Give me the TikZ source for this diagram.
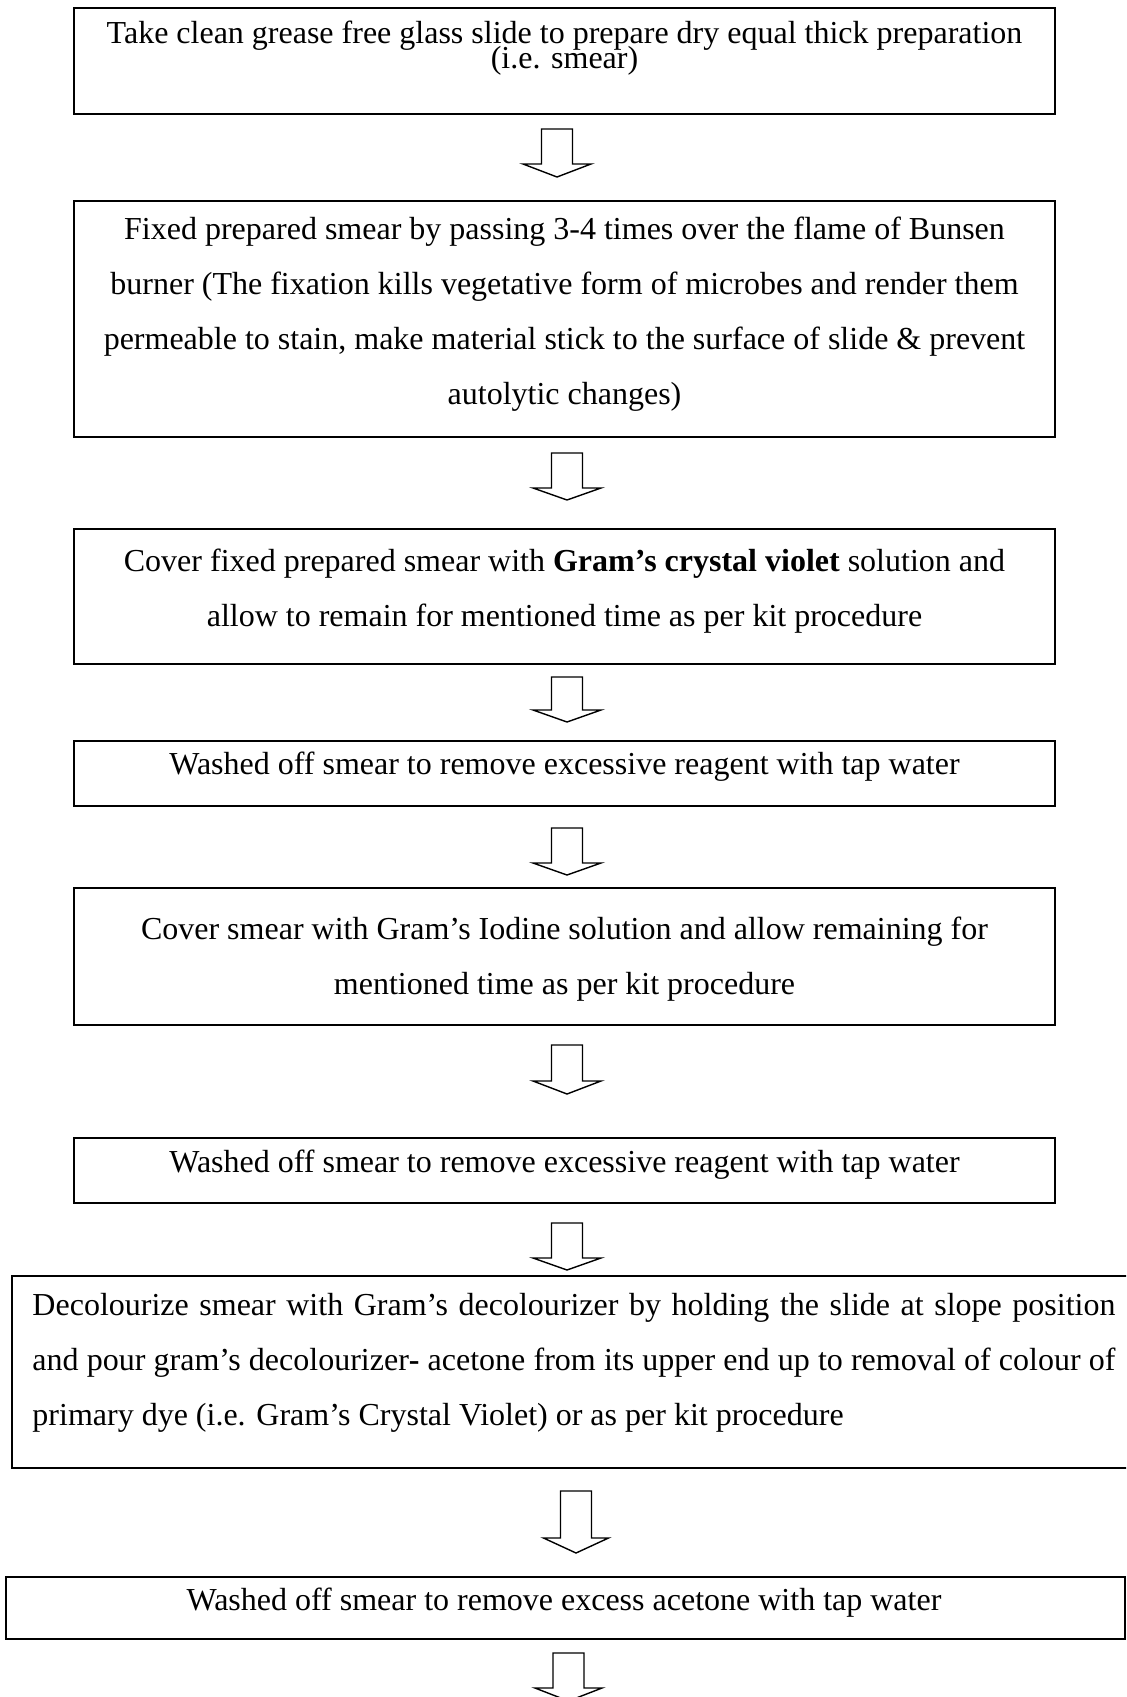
\documentclass[tikz,border=0pt]{standalone}
\usepackage{fontspec}
\setmainfont{Liberation Serif}
\begin{document}
\begin{tikzpicture}[x=0.5pt,y=-0.5pt,
  box/.style={draw=black,line width=1pt,rectangle,inner sep=0pt,minimum width=490.5pt},
  txt/.style={inner sep=0pt,align=center,font=\fontsize{16}{27.5}\selectfont},
  arrowline/.style={draw=black,line width=0.7pt,fill=white,line join=miter},
  pics/barrow/.style args={#1/#2/#3/#4}{code={
    \draw[arrowline] (-#1,0) -- (#1,0) -- (#1,#3) -- (#2,#3) -- (0,#4) -- (-#2,#3) -- (-#1,#3) -- cycle;}}
]
\useasboundingbox[fill=white] (0,0) rectangle (1126,1697);
\clip (0,0) rectangle (1126,1697);

% boxes
\node[box,minimum height=53pt]   (b1) at (564.5,61)   {};
\node[box,minimum height=118pt]  (b2) at (564.5,319)  {};
\node[box,minimum height=67.5pt] (b3) at (564.5,596.5) {};
\node[box,minimum height=32.5pt] (b4) at (564.5,773.5) {};
\node[box,minimum height=68.5pt] (b5) at (564.5,956.5) {};
\node[box,minimum height=32.5pt] (b6) at (564.5,1170.5) {};
\node[box,minimum width=564pt,minimum height=96pt] (b7) at (576,1372) {};
\node[box,minimum width=559.5pt,minimum height=31pt] (b8) at (565.5,1608) {};

% texts
\node[txt,anchor=base] (t1a) at (564.5,43) {Take clean grease free glass slide to prepare dry equal thick preparation};
\node[txt,anchor=base] (t1b) at (564.5,68) {(i.e. smear)};
\node[txt] (t2) at (564.5,314.5) {Fixed prepared smear by passing 3-4 times over the flame of Bunsen\\
burner (The fixation kills vegetative form of microbes and render them\\
permeable to stain, make material stick to the surface of slide \& prevent\\
autolytic changes)};
\node[txt] (t3) at (564.5,591.5) {Cover fixed prepared smear with \textbf{Gram’s crystal violet} solution and\\
allow to remain for mentioned time as per kit procedure};
\node[txt] (t4) at (564.5,767) {Washed off smear to remove excessive reagent with tap water};
\node[txt] (t5) at (564.5,959.5) {Cover smear with Gram’s Iodine solution and allow remaining for\\
mentioned time as per kit procedure};
\node[txt] (t6) at (564.5,1165) {Washed off smear to remove excessive reagent with tap water};
\node[txt,align=justify,text width=541.5pt] (t7) at (574,1363) {\hyphenpenalty=10000 Decolourize smear with Gram’s decolourizer by holding the slide at slope position\linebreak
and pour gram’s decolourizer\textbf{-} acetone from its upper end up to removal of colour of\linebreak
primary dye (i.e. Gram’s Crystal Violet) or as per kit procedure};
\node[txt] (t8) at (564,1603) {Washed off smear to remove excess acetone with tap water};

% block arrows
\pic at (557,129)   {barrow={15.5/34/35/48}};
\pic at (567,453)   {barrow={15.5/34/35/47}};
\pic at (567,677)   {barrow={15.5/34/33/45}};
\pic at (567,828)   {barrow={15.5/34/35/47}};
\pic at (567,1045)  {barrow={15.5/34/36/49}};
\pic at (567,1223)  {barrow={15.5/34/35/47}};
\pic at (576,1491)  {barrow={15.5/32.5/47/62}};
\pic at (568.5,1653) {barrow={15.5/33.5/35/48}};
\end{tikzpicture}
\end{document}
